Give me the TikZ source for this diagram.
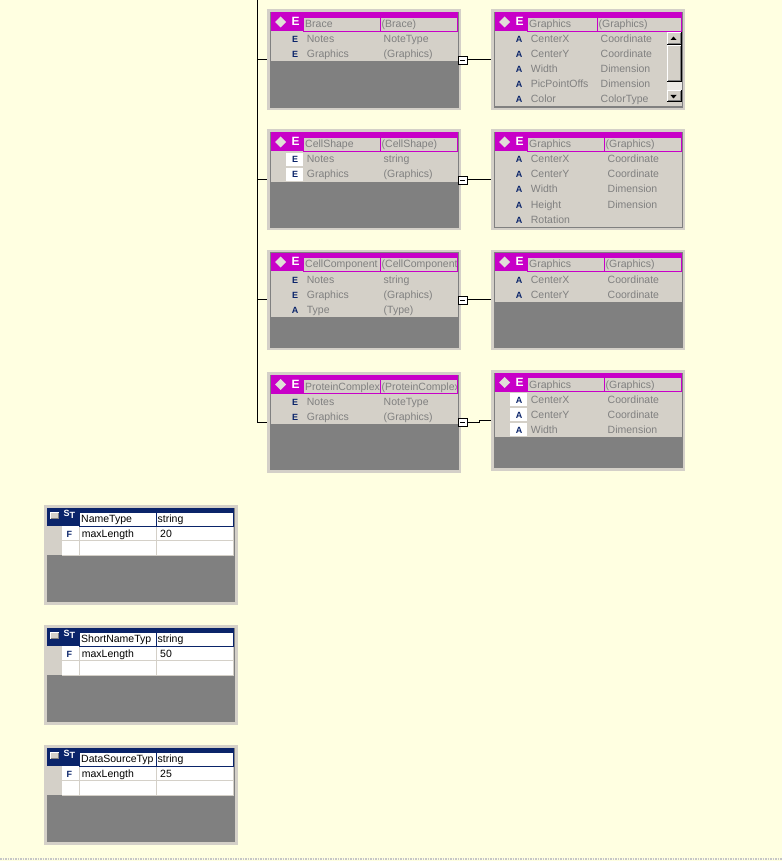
\documentclass[tikz,border=0pt]{standalone}
\usepackage{fontspec}
\setmainfont{Liberation Sans}
\usetikzlibrary{positioning}
\definecolor{bgyellow}{HTML}{FFFFE1}
\definecolor{panel}{HTML}{D4D0C8}
\definecolor{darkpanel}{HTML}{808080}
\definecolor{elemhead}{HTML}{C800C8}
\definecolor{navy}{HTML}{0A246A}

\tikzset{
  txt/.style={anchor=base west, inner sep=0pt, font=\fontsize{10.5}{12}\selectfont},
  greytxt/.style={txt, text=darkpanel},
  icon/.style={anchor=base, inner sep=0pt, font=\fontsize{9}{10}\selectfont\bfseries, text=navy},
  eframe/.style={anchor=north west, fill=panel, minimum width=194pt, minimum height=100.5pt, inner sep=0pt, outer sep=0pt},
  collapse/.style={draw=black, fill=white, minimum width=8.5pt, minimum height=8pt, inner sep=0pt, outer sep=0pt,
    path picture={\draw[black] ([xshift=2pt]path picture bounding box.west) -- ([xshift=-2pt]path picture bounding box.east);}},
  link/.style={draw=black, line width=1pt},
}

% element box: name, left, top, head name, head type, rows, column split, row count
\newcommand{\ebox}[8]{%
  \node[eframe] (#1) at (#2,#3) {};
  \begin{scope}[shift={(#2,#3)}]
    \fill[darkpanel] (3.5,3) rectangle (191,97.5);
    \fill[panel] (3.5,3) rectangle (191,22+15*#8);
    \draw[darkpanel] (3.5,3) rectangle (191,97.5);
    \fill[elemhead] (3.5,3) rectangle (191,21.5);
    \begin{scope}
      \clip (36.5,7.5) rectangle (#7,21.5);
      \fill[panel] (36.5,7.5) rectangle (#7,21.5);
      \node[greytxt] (#1-hn) at (38,18) {#4};
    \end{scope}
    \begin{scope}
      \clip (#7,7.5) rectangle (191,21.5);
      \fill[panel] (#7,7.5) rectangle (191,21.5);
      \node[greytxt] (#1-ht) at (#7+1.5,18) {#5};
    \end{scope}
    \draw[elemhead] (36.5,7.5) rectangle (#7,21.5) (#7,7.5) rectangle (190.5,21.5);
    \fill[panel!70!white] (13.5,7) -- (19,12.5) -- (13.5,18) -- (8,12.5) -- cycle;
    \node[anchor=base, inner sep=0pt, text=white, font=\fontsize{12}{13}\selectfont\bfseries] (#1-he) at (28.5,16.3) {E};
    \foreach \ic/\nm/\ty/\bg [count=\i] in {#6} {
      \pgfmathsetmacro\ry{14.7+15*\i}
      \fill[\bg] (19,\ry-6.5) rectangle (36,\ry+6.5);
      \node[icon] (#1-i\i) at (28,\ry+3.8) {\ic};
      \node[greytxt] (#1-n\i) at (39.7,\ry+3.8) {\nm};
      \node[greytxt] (#1-t\i) at (#7+3.5,\ry+3.8) {\ty};
    }
  \end{scope}
}

% simple type box: name, top, type name, base, value
\newcommand{\stbox}[5]{%
  \node[eframe, minimum height=100pt] (#1) at (44,#2) {};
  \begin{scope}[shift={(44,#2)}]
    \fill[darkpanel] (3,2.5) rectangle (191,97);
    \fill[navy] (3,2.5) rectangle (189.5,21);
    \fill[white] (18,21) rectangle (189.5,50);
    \fill[panel] (3,21) rectangle (18,50);
    \draw[panel] (18,35) -- (189.5,35) (18,50) -- (189.5,50) (35,21) -- (35,50) (112,21) -- (112,50) (189.5,21) -- (189.5,50);
    \fill[white] (6,6.5) rectangle (14.5,14);
    \fill[darkpanel] (7,7.5) rectangle (14.5,14);
    \fill[panel] (7,7.5) rectangle (13.5,13);
    \node[anchor=base west, inner sep=0pt, text=white, font=\fontsize{9}{10}\selectfont\bfseries] (#1-s) at (19.5,11.8) {S};
    \node[anchor=base west, inner sep=0pt, text=white, font=\fontsize{9}{10}\selectfont\bfseries] (#1-tt) at (25.5,13.8) {T};
    \begin{scope}
      \clip (35,7) rectangle (112,21);
      \fill[white] (35,7) rectangle (112,21);
      \node[txt] (#1-hn) at (37,17.8) {#3};
    \end{scope}
    \fill[white] (112,7) rectangle (189.5,21);
    \draw[navy] (35,7) rectangle (112,21) (112,7) rectangle (189.5,21);
    \node[txt] (#1-ht) at (113.5,17.8) {#4};
    \node[icon] (#1-f) at (25.3,32.1) {F};
    \node[txt] (#1-n) at (37.7,32.1) {maxLength};
    \node[txt] (#1-v) at (116,32.1) {#5};
  \end{scope}
}

\begin{document}
\begin{tikzpicture}[x=1pt,y=-1pt]
\fill[bgyellow] (0,0) rectangle (782,861);
\useasboundingbox (0,0) rectangle (782,861);
\draw[gray!45, densely dotted, line width=1.5pt] (0,859) -- (782,859);

% parent elements
\ebox{brace}{267}{9.5}{Brace}{(Brace)}{E/Notes/NoteType/panel, E/Graphics/(Graphics)/panel}{113}{2}
\ebox{cellshape}{267}{129.5}{CellShape}{(CellShape)}{E/Notes/string/white, E/Graphics/(Graphics)/white}{113}{2}
\ebox{cellcomp}{267}{249.5}{CellComponent}{(CellComponent}{E/Notes/string/panel, E/Graphics/(Graphics)/panel, A/Type/(Type)/panel}{113}{3}
\ebox{pc}{267}{372}{ProteinComplex}{(ProteinComplex}{E/Notes/NoteType/panel, E/Graphics/(Graphics)/panel}{113}{2}

% graphics children
\ebox{braceG}{491}{9.5}{Graphics}{(Graphics)}{A/CenterX/Coordinate/panel, A/CenterY/Coordinate/panel, A/Width/Dimension/panel, A/PicPointOffs/Dimension/panel, A/Color/ColorType/panel}{106}{5}
\ebox{cellshapeG}{491}{129.5}{Graphics}{(Graphics)}{A/CenterX/Coordinate/panel, A/CenterY/Coordinate/panel, A/Width/Dimension/panel, A/Height/Dimension/panel, A/Rotation//panel}{113}{5}
\ebox{cellcompG}{491}{249.5}{Graphics}{(Graphics)}{A/CenterX/Coordinate/panel, A/CenterY/Coordinate/panel}{113}{2}
\ebox{pcG}{491}{370}{Graphics}{(Graphics)}{A/CenterX/Coordinate/white, A/CenterY/Coordinate/white, A/Width/Dimension/white}{113}{3}

% scrollbar of the first graphics box
\begin{scope}[shift={(491,9.5)}]
  \fill[panel!45!white] (175.5,23) rectangle (190.5,93);
  \foreach \a/\b in {23/36, 36/72.5, 80.5/93} {
    \fill[black] (175.5,\a) rectangle (190.5,\b);
    \fill[white] (175.5,\a) rectangle (189.5,\b-1);
    \fill[darkpanel] (176.5,\a+1) rectangle (189.5,\b-1);
    \fill[panel] (176.5,\a+1) rectangle (188.5,\b-2);
  }
  \fill[black] (182.5,27) -- (185.5,30.5) -- (179.5,30.5) -- cycle;
  \fill[black] (182.5,89) -- (185.5,85.5) -- (179.5,85.5) -- cycle;
\end{scope}

% tree connectors
\coordinate (trunk) at (257,0);
\draw[link] (trunk) |- (pc.west);
\foreach \b in {brace,cellshape,cellcomp}
  \draw[link] (trunk |- \b.west) -- (\b.west);

\foreach \b in {brace,cellshape,cellcomp,pc}
  \node[collapse, right=-2.75pt of \b.east] (\b M) {};
\foreach \b in {brace,cellshape,cellcomp}
  \draw[link] (\b M.east) -- (\b G.west);
\draw[link] (pcM.east) -- ++(13,0) |- (pcG.west);

% simple types
\stbox{nametype}{505}{NameType}{string}{20}
\stbox{shortname}{625}{ShortNameTyp}{string}{50}
\stbox{datasource}{745}{DataSourceTyp}{string}{25}
\end{tikzpicture}
\end{document}
